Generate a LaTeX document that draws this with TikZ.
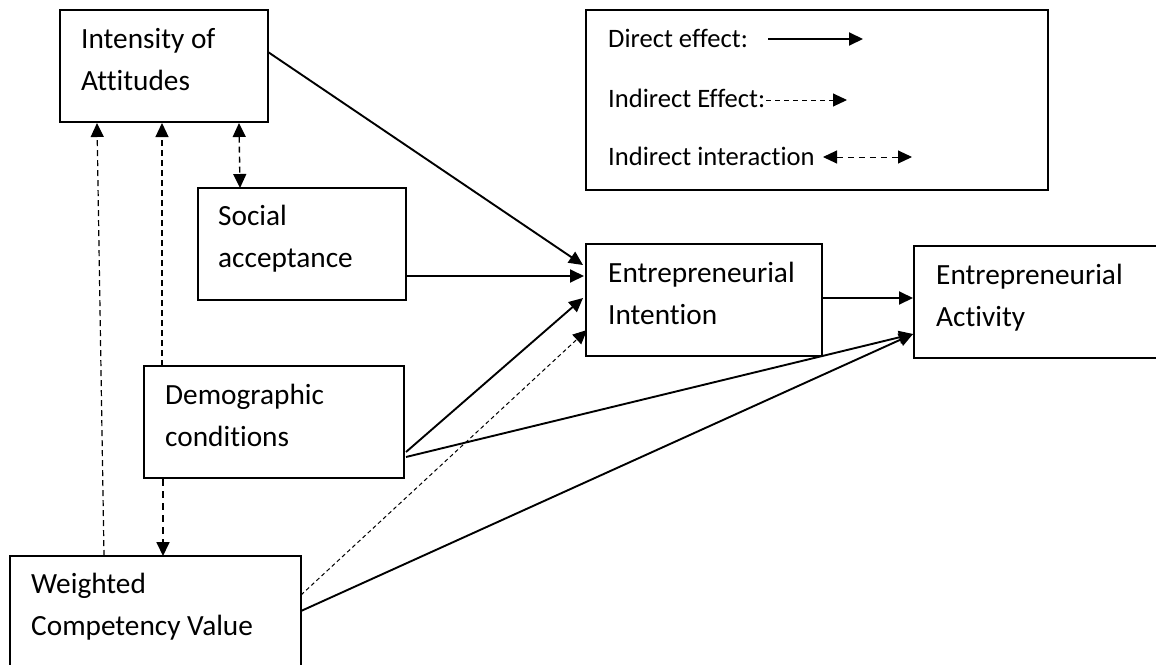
\documentclass[tikz,border=0pt]{standalone}
\usepackage{fontspec}
\setmainfont{Carlito}[Ligatures=NoCommon]
\usetikzlibrary{arrows.meta,calc}
\begin{document}
\begin{tikzpicture}[x=1pt,y=-1pt,
  box/.style={draw, line width=2pt, inner sep=0pt, outer sep=0pt, anchor=north west},
  lbl/.style={anchor=base west, inner sep=0pt, align=left,
              font=\fontsize{29.3}{41.5}\selectfont},
  leglbl/.style={anchor=base west, inner sep=0pt,
              font=\fontsize{26.6}{32}\selectfont},
  tip/.style={-{Triangle[length=14pt,width=13pt]}},
  tips/.style={{Triangle[length=14pt,width=13pt]}-{Triangle[length=14pt,width=13pt]}},
  direct/.style={tip, line width=1.9pt},
  indirect/.style={tip, line width=1pt, dash pattern=on 4pt off 3pt},
  vdash/.style={tip, line width=1.2pt, dash pattern=on 6pt off 4pt},
  vdashb/.style={tip, line width=1.8pt, dash pattern=on 7pt off 5pt},
  interact/.style={tips, line width=1.4pt, dash pattern=on 6pt off 4pt}]

\useasboundingbox (0,0) rectangle (1156,664);
\clip (0,0) rectangle (1156,664);

% boxes
\node[box, minimum width=208pt, minimum height=112pt] (int) at (60,10) {};
\node[box, minimum width=208pt, minimum height=112pt] (soc) at (198,188) {};
\node[box, minimum width=260pt, minimum height=112pt] (dem) at (144,366) {};
\node[box, minimum width=291pt, minimum height=130pt] (wcv) at (10,556) {};
\node[box, minimum width=236pt, minimum height=112pt] (ei) at (586,244) {};
\node[box, minimum width=266pt, minimum height=112pt] (ea) at (914,246) {};
\node[box, line width=2.5pt, minimum width=462pt, minimum height=180pt] (leg) at (586,10) {};

% box texts (anchored on the baseline of the second line)
\node[lbl] (intT) at ($(int.north west)+(21,80)$) {Intensity of\\Attitudes};
\node[lbl] (socT) at ($(soc.north west)+(20,79)$) {Social\\acceptance};
\node[lbl] (demT) at ($(dem.north west)+(21,80)$) {Demographic\\conditions};
\node[lbl] (wcvT) at ($(wcv.north west)+(21,79)$) {Weighted\\Competency Value};
\node[lbl] (eiT) at ($(ei.north west)+(22,80)$) {Entrepreneurial\\Intention};
\node[lbl] (eaT) at ($(ea.north west)+(22,80)$) {Entrepreneurial\\Activity};

% legend
\node[leglbl] (l1) at ($(leg.north west)+(22,37)$) {Direct effect:};
\node[leglbl] (l2) at ($(leg.north west)+(22,97)$) {Indirect Effect:};
\node[leglbl] (l3) at ($(leg.north west)+(22,155)$) {Indirect interaction};
\coordinate (l1a) at ($(leg.north west)+(182,29)$);
\coordinate (l1b) at ($(leg.north west)+(277,29)$);
\coordinate (l2a) at ($(leg.north west)+(180,90)$);
\coordinate (l2b) at ($(leg.north west)+(261,90)$);
\coordinate (l3a) at ($(leg.north west)+(237,147)$);
\coordinate (l3b) at ($(leg.north west)+(326,147)$);
\draw[direct] (l1a) -- (l1b);
\draw[tip, line width=1pt, dash pattern=on 5pt off 4pt] (l2a) -- (l2b);
\draw[tips, line width=1pt, dash pattern=on 6pt off 5pt] (l3a) -- (l3b);

% direct effects
\draw[direct] ($(int.north east)+(0,42)$) -- ($(ei.north west)+(-3,21)$);
\draw[direct] ($(soc.north east)+(0,88)$) -- ($(ei.north west)+(-2,32)$);
\draw[direct] ($(dem.north east)+(2,86)$) -- ($(ei.north west)+(-3,54)$);
\draw[direct] ($(dem.north east)+(2,91)$) -- ($(ea.north west)+(-1,88)$);
\draw[direct] ($(wcv.north east)+(0,55)$) -- ($(ea.north west)+(-1,88)$);
\draw[direct] ($(ei.north east)+(0,54)$) -- ($(ea.north west)+(-1,52)$);

% indirect effects
\draw[indirect] ($(wcv.north east)+(0,39)$) -- ($(ei.north west)+(1,86)$);
\draw[vdash] ($(wcv.north west)+(94,0)$) -- ($(int.south west)+(37,1)$);
\draw[vdash] ($(dem.north west)+(18,0)$) -- ($(int.south west)+(102,1)$);
\draw[vdashb] ($(dem.south west)+(19,1)$) -- ($(wcv.north west)+(153,0)$);

% interaction
\draw[interact] ($(int.south west)+(179,1)$) -- ($(soc.north west)+(42,0)$);
\end{tikzpicture}
\end{document}
